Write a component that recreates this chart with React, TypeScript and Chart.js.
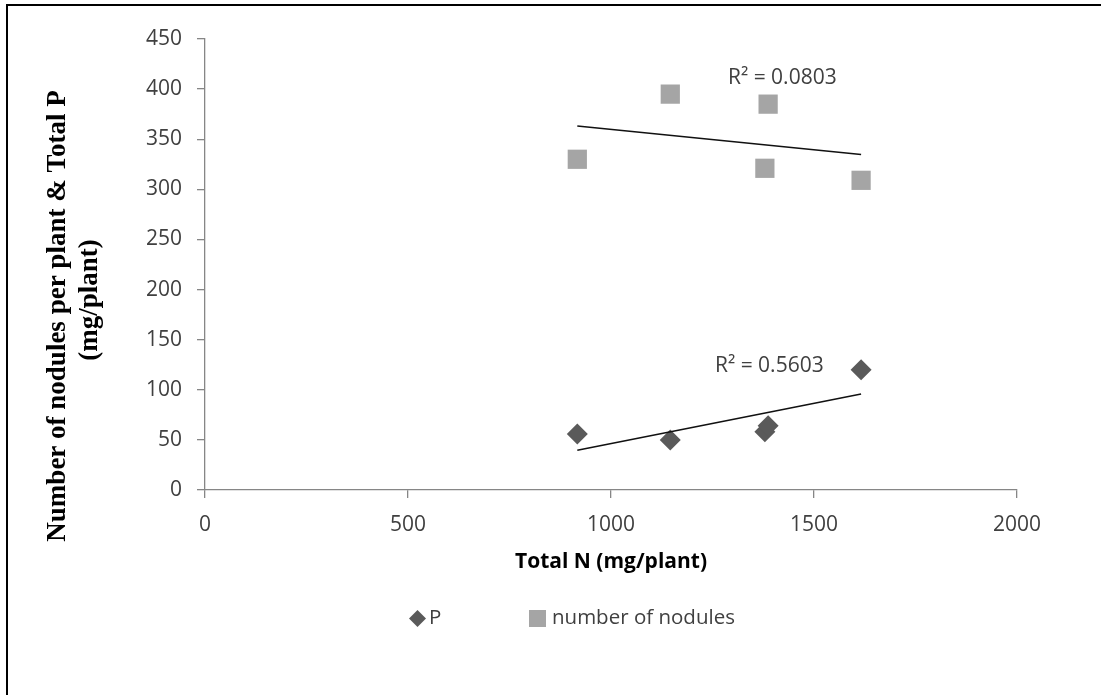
import { useEffect, useRef } from "react";
import { Chart, registerables } from "chart.js";

Chart.register(...registerables);

// Total N per plant (mg/plant) for each sample
const totalN = [917, 1146, 1379, 1387, 1616];
// Total P per plant (mg/plant)
const totalP = [56, 50, 58, 64, 120];
// Number of nodules per plant
const noduleCount = [330, 395, 321, 385, 309];

const seriesNames = ["P", "number of nodules"];
const seriesColors = ["#5A5A5A", "#A5A5A5"];

const xTicks = [0, 500, 1000, 1500, 2000];
const yTicks = [0, 50, 100, 150, 200, 250, 300, 350, 400, 450];

// R² annotations for the two linear trendlines, anchored in data units
const r2Labels = ["R² = 0.5603", "R² = 0.0803"];
const r2AnchorN = [1256, 1288];
const r2AnchorY = [124, 411];

const xTitle = "Total N (mg/plant)";
const yTitleLines = ["Number of nodules per plant & Total P", "(mg/plant)"];

const SANS = "'Open Sans', 'Noto Sans', sans-serif";
const SERIF = "'Liberation Serif', 'DejaVu Serif', serif";
const AXIS_GRAY = "#868686";
const TEXT_GRAY = "#404040";

// Least-squares line through the points, spanning the observed x range
function linearFit(xs: number[], ys: number[]) {
  const n = xs.length;
  const mx = xs.reduce((a, b) => a + b, 0) / n;
  const my = ys.reduce((a, b) => a + b, 0) / n;
  let sxy = 0;
  let sxx = 0;
  for (let i = 0; i < n; i++) {
    sxy += (xs[i] - mx) * (ys[i] - my);
    sxx += (xs[i] - mx) * (xs[i] - mx);
  }
  const slope = sxy / sxx;
  const intercept = my - slope * mx;
  const x0 = Math.min(...xs);
  const x1 = Math.max(...xs);
  return [
    { x: x0, y: intercept + slope * x0 },
    { x: x1, y: intercept + slope * x1 },
  ];
}

const toPoints = (xs: number[], ys: number[]) => xs.map((x, i) => ({ x, y: ys[i] }));

// Rotated two-line y-axis title
const yTitlePlugin = {
  id: "yTitle",
  afterDraw(chart: Chart) {
    const ctx = chart.ctx;
    ctx.save();
    ctx.fillStyle = "#000";
    ctx.font = `bold 27px ${SERIF}`;
    ctx.textAlign = "center";
    ctx.textBaseline = "alphabetic";
    const lines = [
      { text: yTitleLines[0], x: 65, y: 316 },
      { text: yTitleLines[1], x: 97, y: 300 },
    ];
    for (const l of lines) {
      ctx.save();
      ctx.translate(l.x, l.y);
      ctx.rotate(-Math.PI / 2);
      ctx.fillText(l.text, 0, 0);
      ctx.restore();
    }
    ctx.restore();
  },
};

// R² text beside each trendline
const r2Plugin = {
  id: "r2Labels",
  afterDatasetsDraw(chart: Chart) {
    const { ctx, scales } = chart;
    ctx.save();
    ctx.fillStyle = TEXT_GRAY;
    ctx.font = `21px ${SANS}`;
    ctx.textAlign = "left";
    ctx.textBaseline = "middle";
    r2Labels.forEach((label, i) => {
      const px = scales.x.getPixelForValue(r2AnchorN[i]);
      const py = scales.y.getPixelForValue(r2AnchorY[i]);
      ctx.fillText(label, px, py);
    });
    ctx.restore();
  },
};

// Legend row under the x-axis title
const legendPlugin = {
  id: "markerLegend",
  afterDraw(chart: Chart) {
    const ctx = chart.ctx;
    const cy = 618.5;
    const itemLeft = [409, 529];
    ctx.save();
    ctx.font = `20.5px ${SANS}`;
    ctx.textAlign = "left";
    ctx.textBaseline = "middle";
    seriesNames.forEach((name, i) => {
      const left = itemLeft[i];
      ctx.fillStyle = seriesColors[i];
      if (i === 0) {
        const cx = left + 8.5;
        ctx.beginPath();
        ctx.moveTo(cx, cy - 8.5);
        ctx.lineTo(cx + 8.5, cy);
        ctx.lineTo(cx, cy + 8.5);
        ctx.lineTo(cx - 8.5, cy);
        ctx.closePath();
        ctx.fill();
      } else {
        ctx.fillRect(left, cy - 8.5, 17, 17);
      }
      ctx.fillStyle = TEXT_GRAY;
      ctx.fillText(name, left + (i === 0 ? 20 : 23), cy);
    });
    ctx.restore();
  },
};

export default function App() {
  const canvasRef = useRef<HTMLCanvasElement | null>(null);

  useEffect(() => {
    const canvas = canvasRef.current;
    if (!canvas) return;

    const pTrend = linearFit(totalN, totalP);
    const nodTrend = linearFit(totalN, noduleCount);

    const chart = new Chart(canvas, {
      type: "scatter",
      data: {
        datasets: [
          {
            label: "P trend",
            data: pTrend,
            showLine: true,
            borderColor: "#111",
            borderWidth: 1.5,
            pointRadius: 0,
            order: 0,
          },
          {
            label: "nodules trend",
            data: nodTrend,
            showLine: true,
            borderColor: "#111",
            borderWidth: 1.5,
            pointRadius: 0,
            order: 0,
          },
          {
            label: seriesNames[0],
            data: toPoints(totalN, totalP),
            pointStyle: "rectRot",
            pointRadius: 10.5,
            pointBackgroundColor: seriesColors[0],
            pointBorderWidth: 0,
            borderColor: seriesColors[0],
            order: 1,
          },
          {
            label: seriesNames[1],
            data: toPoints(totalN, noduleCount),
            pointStyle: "rect",
            pointRadius: 13.6,
            pointBackgroundColor: seriesColors[1],
            pointBorderWidth: 0,
            borderColor: seriesColors[1],
            order: 1,
          },
        ],
      },
      options: {
        responsive: false,
        animation: false,
        events: [],
        layout: { padding: { left: 0, top: 39, right: 84, bottom: 0 } },
        plugins: {
          legend: { display: false },
          tooltip: { enabled: false },
          title: { display: false },
        },
        scales: {
          x: {
            type: "linear",
            min: 0,
            max: 2000,
            afterFit(scale: any) {
              scale.height = 205;
            },
            afterBuildTicks(scale: any) {
              scale.ticks = xTicks.map((v) => ({ value: v }));
            },
            grid: {
              drawOnChartArea: false,
              drawTicks: true,
              tickLength: 8,
              color: AXIS_GRAY,
              lineWidth: 1.3,
            },
            border: { display: true, color: AXIS_GRAY, width: 1.3 },
            ticks: {
              padding: 14,
              color: TEXT_GRAY,
              font: { family: SANS, size: 21 },
              maxRotation: 0,
              callback: (v: any) => String(v),
            },
            title: {
              display: true,
              text: xTitle,
              color: "#000",
              font: { family: SANS, size: 21, weight: "bold" },
              padding: { top: 0, bottom: 120 },
            },
          },
          y: {
            type: "linear",
            min: 0,
            max: 450,
            afterFit(scale: any) {
              scale.width = 205;
            },
            afterBuildTicks(scale: any) {
              scale.ticks = yTicks.map((v) => ({ value: v }));
            },
            grid: {
              drawOnChartArea: false,
              drawTicks: true,
              tickLength: 8,
              color: AXIS_GRAY,
              lineWidth: 1.3,
            },
            border: { display: true, color: AXIS_GRAY, width: 1.3 },
            ticks: {
              padding: 15,
              color: TEXT_GRAY,
              font: { family: SANS, size: 21 },
              callback: (v: any) => String(v),
            },
          },
        },
      },
      plugins: [yTitlePlugin, r2Plugin, legendPlugin],
    });

    return () => chart.destroy();
  }, []);

  return (
    <>
      <div
        style={{
          position: "fixed",
          left: 6,
          top: 4,
          width: 1200,
          height: 800,
          border: "2px solid #000",
          boxSizing: "border-box",
          pointerEvents: "none",
        }}
      />
      <canvas
        ref={canvasRef}
        width={1101}
        height={695}
        style={{ position: "fixed", left: 0, top: 0, display: "block" }}
      />
    </>
  );
}
